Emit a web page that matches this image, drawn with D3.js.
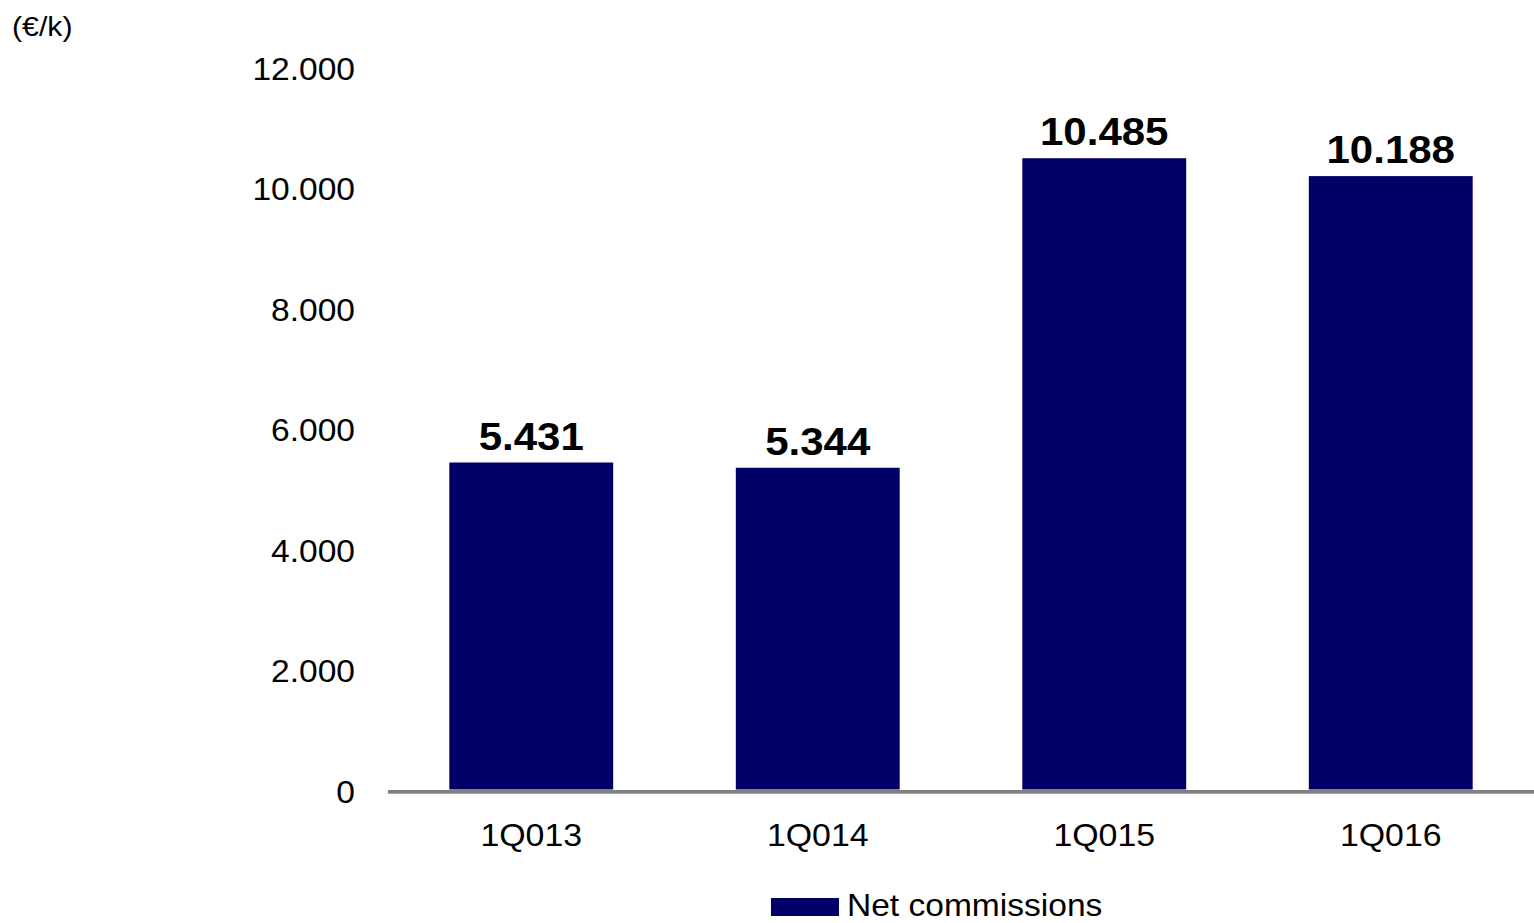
<!DOCTYPE html>
<html>
<head>
<meta charset="utf-8">
<script src="https://cdn.jsdelivr.net/npm/d3@7"></script>
<style>
  html, body { margin: 0; padding: 0; background: #fff; }
  svg { display: block; }
  text { font-family: "Liberation Sans", Arial, sans-serif; fill: #000; }
</style>
</head>
<body>
<svg id="chart" width="1534" height="923"></svg>
<script>
// Quarterly net commissions (€ thousands)
const categories = ["1Q013", "1Q014", "1Q015", "1Q016"];
const netCommissions = [5431, 5344, 10485, 10188];
const valueLabels = ["5.431", "5.344", "10.485", "10.188"];
const tickValues = [0, 2000, 4000, 6000, 8000, 10000, 12000];
const tickLabels = ["0", "2.000", "4.000", "6.000", "8.000", "10.000", "12.000"];
const unitLabel = "(€/k)";
const seriesName = "Net commissions";

const barColor = "#000066";
const axisColor = "#808080";
const stretch = 1.1; // horizontal widening of the type

const svg = d3.select("#chart");

const x = d3.scaleBand()
  .domain(categories)
  .range([388, 1534])
  .paddingInner(0.428)
  .paddingOuter(0.214);

const y = d3.scaleLinear()
  .domain([0, 12000])
  .range([789.5, 67]);

function label(g, px, py, txt, size, weight, anchor) {
  return g.append("text")
    .attr("transform", `translate(${px},${py}) scale(${stretch},1)`)
    .attr("text-anchor", anchor)
    .style("font-size", size + "px")
    .style("font-weight", weight)
    .text(txt);
}

// unit label
label(svg, 12, 36, unitLabel, 27.5, "normal", "start");

// y axis tick labels (no axis line)
const yAxis = svg.append("g");
tickValues.forEach((v, i) => {
  label(yAxis, 355, y(v) + 13, tickLabels[i], 30.5, "normal", "end");
});

// bars
svg.append("g").selectAll("rect")
  .data(netCommissions)
  .join("rect")
  .attr("x", (d, i) => x(categories[i]))
  .attr("y", d => y(d))
  .attr("width", x.bandwidth())
  .attr("height", d => y(0) - y(d))
  .attr("fill", barColor);

// value labels
const vl = svg.append("g");
netCommissions.forEach((d, i) => {
  label(vl, x(categories[i]) + x.bandwidth() / 2, y(d) - 13, valueLabels[i], 38.2, "bold", "middle");
});

// baseline axis with category labels
const xAxis = svg.append("g")
  .attr("transform", `translate(0,${y(0) + 2.3})`)
  .call(d3.axisBottom(x).tickSize(0).tickFormat(""));
xAxis.select(".domain")
  .attr("stroke", axisColor)
  .attr("stroke-width", 3.7)
  .attr("d", "M388,0H1534");

const cl = svg.append("g");
categories.forEach(c => {
  label(cl, x(c) + x.bandwidth() / 2, 846, c, 30.8, "normal", "middle");
});

// legend
const legend = svg.append("g");
legend.append("rect")
  .attr("x", 771).attr("y", 898)
  .attr("width", 68).attr("height", 18)
  .attr("fill", barColor);
label(legend, 847, 916, seriesName, 30.5, "normal", "start");
</script>
</body>
</html>
